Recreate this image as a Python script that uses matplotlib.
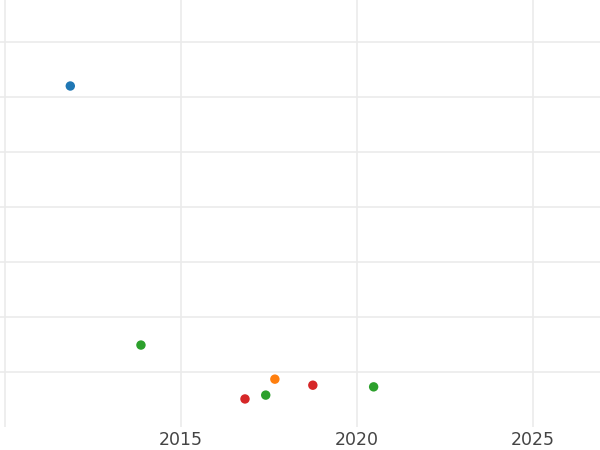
import matplotlib
matplotlib.use("Agg")
import matplotlib.pyplot as plt

years = [2011.85, 2013.86, 2016.82, 2017.41, 2017.67, 2018.75, 2020.48]
values = [62.0, 14.9, 5.1, 5.8, 8.7, 7.6, 7.3]
groups = ["A", "C", "D", "C", "B", "D", "C"]
group_colors = {"A": "#1f77b4", "B": "#ff7f0e", "C": "#2ca02c", "D": "#d62728"}

fig = plt.figure(figsize=(6, 4.5), dpi=100)
ax = fig.add_axes([0, 1 - 427 / 450, 1, 427 / 450])

for g, c in group_colors.items():
    xs = [x for x, gg in zip(years, groups) if gg == g]
    ys = [y for y, gg in zip(values, groups) if gg == g]
    ax.scatter(xs, ys, s=46, color=c, edgecolors="none", zorder=3)

ax.set_xlim(2009.85, 2026.92)
ax.set_ylim(0, 427 / 5.5)
ax.set_xticks([2010, 2015, 2020, 2025])
ax.set_xticklabels(["", "2015", "2020", "2025"])
ax.set_yticks([10, 20, 30, 40, 50, 60, 70])
ax.set_yticklabels([])
ax.grid(True, color="#ebebeb", linewidth=1.2)
ax.set_axisbelow(True)
for s in ax.spines.values():
    s.set_visible(False)
ax.tick_params(axis="both", length=0, labelsize=12.5, labelcolor="#444444", pad=3)

fig.savefig("out.png", dpi=100)
